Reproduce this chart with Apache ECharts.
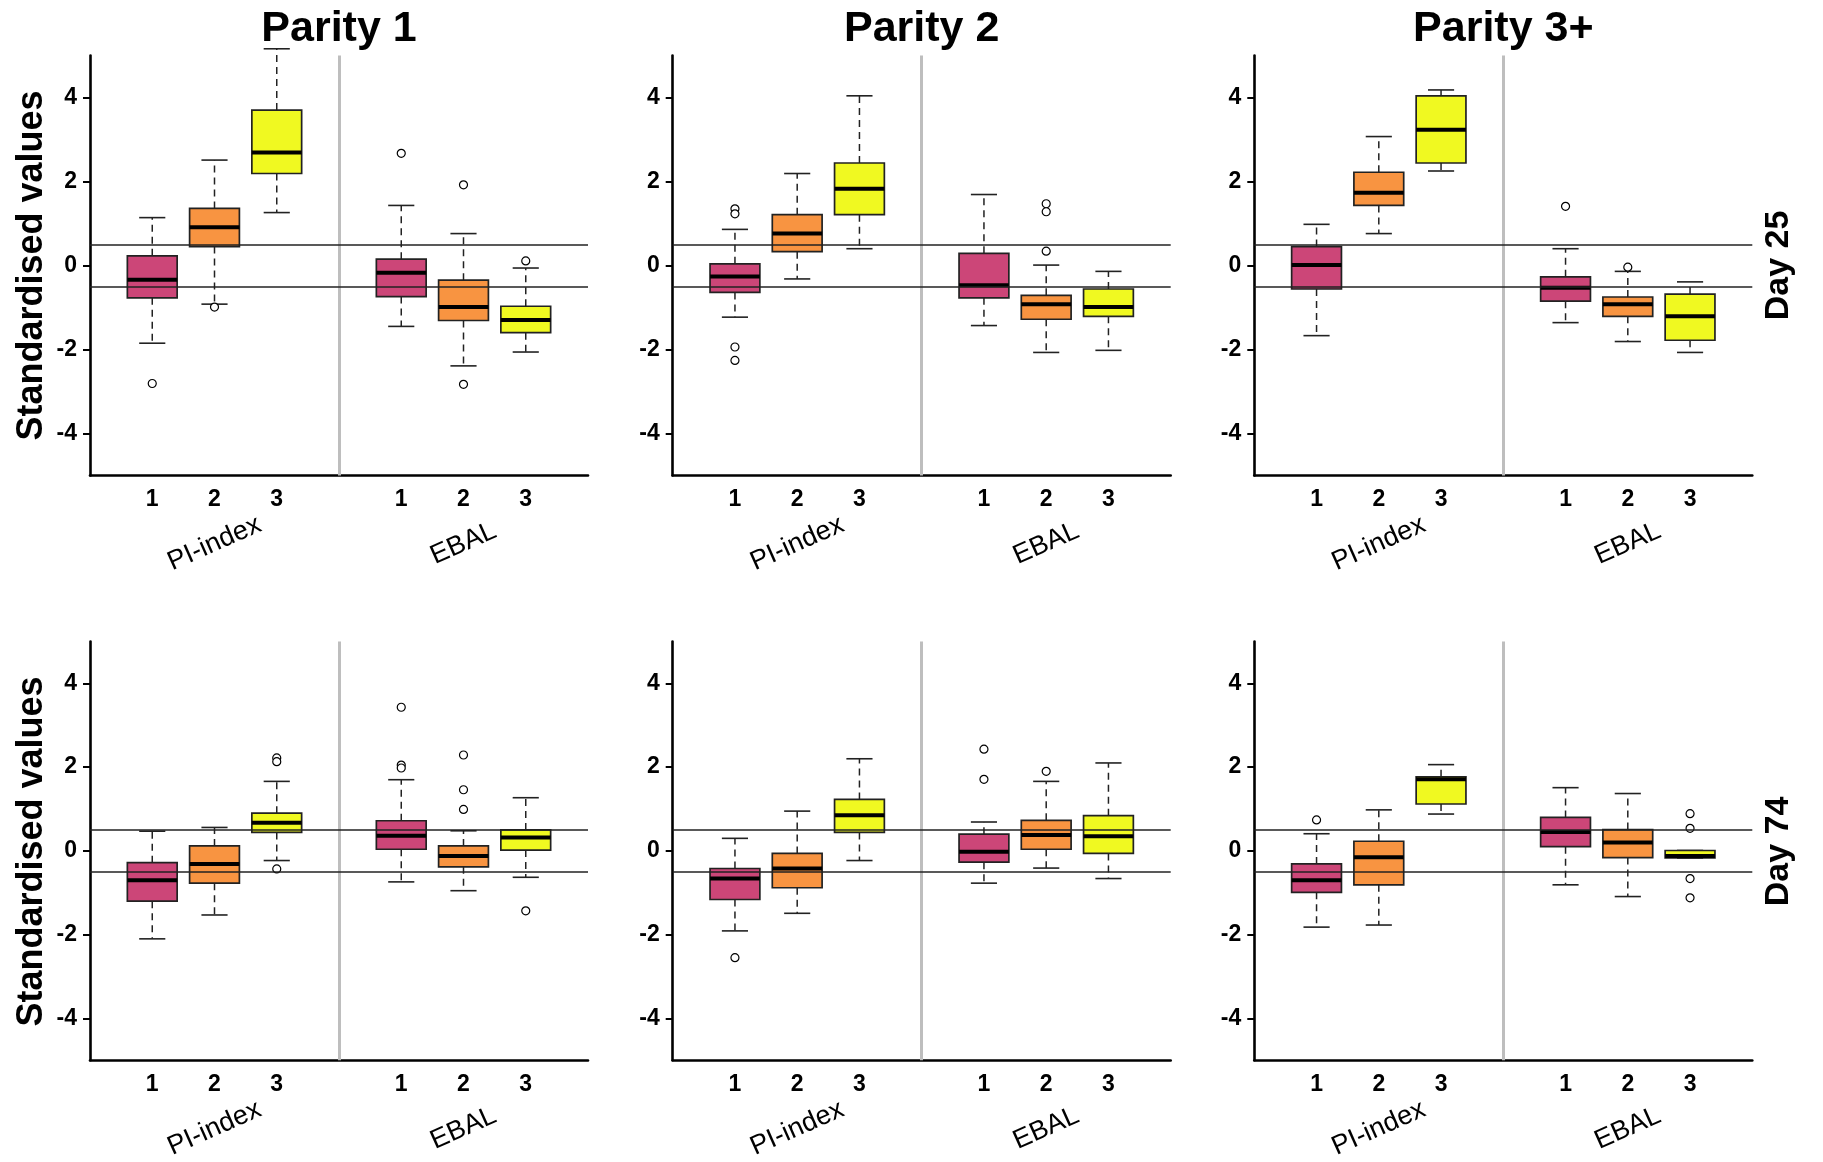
<!DOCTYPE html>
<html><head><meta charset="utf-8">
<script src="https://cdn.jsdelivr.net/npm/echarts@6/dist/echarts.min.js"></script>
<style>html,body{margin:0;padding:0;background:#fff}#c{width:1823px;height:1162px}</style>
</head><body><div id="c"></div><script>
// ---------- data ----------
const parities = ['Parity 1', 'Parity 2', 'Parity 3+'];
const days = ['Day 25', 'Day 74'];
const groups = ['PI-index', 'EBAL'];
const levels = ['1', '2', '3'];
const yTicks = [-4, -2, 0, 2, 4];
const refLines = [0.5, -0.5];
const yLabel = 'Standardised values';

// box order: PI-index 1,2,3, EBAL 1,2,3 ; each [lower whisker, Q1, median, Q3, upper whisker]
const boxD25P1 = [
  [-1.85, -0.77, -0.34, 0.23, 1.14],
  [-0.92, 0.45, 0.91, 1.36, 2.51],
  [1.26, 2.19, 2.69, 3.70, 5.16],
  [-1.45, -0.74, -0.17, 0.15, 1.43],
  [-2.39, -1.31, -0.99, -0.35, 0.76],
  [-2.06, -1.60, -1.30, -0.97, -0.06]
];
const boxD25P2 = [
  [-1.23, -0.64, -0.26, 0.04, 0.86],
  [-0.32, 0.33, 0.76, 1.21, 2.19],
  [0.40, 1.21, 1.83, 2.44, 4.04],
  [-1.43, -0.77, -0.47, 0.29, 1.69],
  [-2.07, -1.28, -0.92, -0.71, 0.01],
  [-2.02, -1.21, -0.99, -0.56, -0.14]
];
const boxD25P3 = [
  [-1.67, -0.56, 0.01, 0.45, 0.98],
  [0.76, 1.43, 1.73, 2.22, 3.07],
  [2.25, 2.44, 3.23, 4.04, 4.18],
  [-1.36, -0.85, -0.53, -0.27, 0.40],
  [-1.81, -1.21, -0.92, -0.75, -0.14],
  [-2.07, -1.78, -1.21, -0.68, -0.39]
];
const boxD74P1 = [
  [-2.10, -1.20, -0.70, -0.28, 0.47],
  [-1.53, -0.77, -0.31, 0.12, 0.56],
  [-0.23, 0.44, 0.67, 0.90, 1.66],
  [-0.74, 0.04, 0.36, 0.72, 1.70],
  [-0.95, -0.38, -0.12, 0.12, 0.48],
  [-0.63, 0.02, 0.32, 0.50, 1.27]
];
const boxD74P2 = [
  [-1.91, -1.16, -0.66, -0.42, 0.30],
  [-1.49, -0.88, -0.42, -0.06, 0.95],
  [-0.23, 0.44, 0.85, 1.23, 2.20],
  [-0.77, -0.27, -0.02, 0.40, 0.69],
  [-0.41, 0.04, 0.38, 0.73, 1.66],
  [-0.66, -0.06, 0.35, 0.84, 2.10]
];
const boxD74P3 = [
  [-1.82, -0.99, -0.70, -0.31, 0.41],
  [-1.77, -0.81, -0.15, 0.23, 0.98],
  [0.88, 1.12, 1.71, 1.77, 2.06],
  [-0.81, 0.10, 0.45, 0.80, 1.51],
  [-1.09, -0.16, 0.20, 0.51, 1.37],
  [-0.17, -0.17, -0.12, 0.01, 0.01]
];
// outliers: [box index, value]
const outD25P1 = [[0, -2.81], [1, -0.99], [3, 2.67], [4, 1.92], [4, -2.83], [5, 0.11]];
const outD25P2 = [[0, 1.35], [0, 1.23], [0, -1.94], [0, -2.26], [4, 1.47], [4, 1.28], [4, 0.34]];
const outD25P3 = [[3, 1.41], [4, -0.04]];
const outD74P1 = [[2, 2.22], [2, 2.13], [2, -0.43], [3, 3.43], [3, 2.05], [3, 1.98], [4, 2.29], [4, 1.46], [4, 0.99], [5, -1.43]];
const outD74P2 = [[0, -2.55], [3, 2.43], [3, 1.71], [4, 1.90]];
const outD74P3 = [[0, 0.74], [5, 0.89], [5, 0.54], [5, -0.66], [5, -1.12]];

const panels = [
  { day: 0, par: 0, box: boxD25P1, out: outD25P1 },
  { day: 0, par: 1, box: boxD25P2, out: outD25P2 },
  { day: 0, par: 2, box: boxD25P3, out: outD25P3 },
  { day: 1, par: 0, box: boxD74P1, out: outD74P1 },
  { day: 1, par: 1, box: boxD74P2, out: outD74P2 },
  { day: 1, par: 2, box: boxD74P3, out: outD74P3 }
];

// ---------- layout & style ----------
const FONT = '"Liberation Sans", Arial, sans-serif';
const boxColors = ['#CC4678', '#F89441', '#F0F921'];
const colLeft = [90, 672.7, 1254.3];
const rowTop = [55.5, 641.5];
const GW = 498, GH = 420;
const pos = i => Math.floor(i / 3) * 4 + (i % 3) + 1;

function renderBox(params, api) {
  const x = api.value(0);
  const c = d => api.coord([x, api.value(d)]);
  const lo = c(1), q1 = c(2), md = c(3), q3 = c(4), hi = c(5);
  const hw = api.size([0.8, 0])[0] / 2;
  const cw = api.size([0.42, 0])[0] / 2;
  const cx = lo[0];
  const fill = boxColors[params.dataIndex % 3];
  const ws = { stroke: '#222', lineWidth: 1.5, lineDash: [7, 5] };
  const ss = { stroke: '#222', lineWidth: 1.6 };
  return {
    type: 'group',
    children: [
      { type: 'line', shape: { x1: cx, y1: q3[1], x2: cx, y2: hi[1] }, style: ws },
      { type: 'line', shape: { x1: cx, y1: q1[1], x2: cx, y2: lo[1] }, style: ws },
      { type: 'line', shape: { x1: cx - cw, y1: hi[1], x2: cx + cw, y2: hi[1] }, style: ss },
      { type: 'line', shape: { x1: cx - cw, y1: lo[1], x2: cx + cw, y2: lo[1] }, style: ss },
      { type: 'rect', shape: { x: cx - hw, y: q3[1], width: 2 * hw, height: q1[1] - q3[1] },
        style: { fill: fill, stroke: '#222', lineWidth: 1.7 } },
      { type: 'line', shape: { x1: cx - hw, y1: md[1], x2: cx + hw, y2: md[1] },
        style: { stroke: '#000', lineWidth: 4 } }
    ]
  };
}

const grid = [], xAxis = [], yAxis = [], series = [];
panels.forEach((p, k) => {
  grid.push({ left: colLeft[p.par], top: rowTop[p.day], width: GW, height: GH, containLabel: false });
  xAxis.push({
    type: 'value', gridIndex: k, min: 0, max: 8, position: 'bottom',
    axisLine: { show: true, onZero: false, lineStyle: { color: '#000', width: 2.6 } },
    axisTick: { show: false }, splitLine: { show: false },
    axisLabel: {
      customValues: [1, 2, 3, 5, 6, 7],
      formatter: v => levels[(v - 1) % 4],
      fontFamily: FONT, fontSize: 23, fontWeight: 'bold', color: '#000',
      verticalAlign: 'middle', margin: 24
    }
  });
  xAxis.push({
    type: 'value', gridIndex: k, min: 0, max: 8, position: 'bottom', offset: 0,
    axisLine: { show: false }, axisTick: { show: false }, splitLine: { show: false },
    axisLabel: {
      customValues: [2, 6],
      formatter: v => groups[(v - 2) / 4],
      rotate: 24, align: 'center', verticalAlign: 'middle', margin: 68,
      fontFamily: FONT, fontSize: 27, color: '#000'
    }
  });
  yAxis.push({
    type: 'value', gridIndex: k, min: -5, max: 5,
    axisLine: { show: true, onZero: false, lineStyle: { color: '#000', width: 2.6 } },
    axisTick: { show: true, customValues: yTicks, length: 7, lineStyle: { color: '#000', width: 2 } },
    axisLabel: {
      customValues: yTicks, fontFamily: FONT, fontSize: 23, fontWeight: 'bold', color: '#000',
      margin: 13, padding: [8, 0, 0, 0]
    },
    splitLine: { show: false }
  });
  series.push({
    type: 'custom', xAxisIndex: 2 * k, yAxisIndex: k,
    data: p.box.map((b, i) => [pos(i)].concat(b)),
    encode: { x: 0, y: [1, 2, 3, 4, 5] },
    renderItem: renderBox, z: 2, animation: false
  });
  series.push({
    type: 'scatter', xAxisIndex: 2 * k, yAxisIndex: k,
    data: p.out.map(o => [pos(o[0]), o[1]]),
    symbol: 'circle', symbolSize: 8,
    itemStyle: { color: '#fff', borderColor: '#000', borderWidth: 1.2, opacity: 1 },
    z: 3, animation: false,
    markLine: {
      silent: true, symbol: ['none', 'none'], label: { show: false }, animation: false,
      data: [{ xAxis: 4, lineStyle: { color: '#bebebe', width: 3, type: 'solid' } }].concat(
        refLines.map(v => ({ yAxis: v, lineStyle: { color: '#222', width: 1.6, type: 'solid' } })))
    }
  });
});

const graphic = [];
parities.forEach((t, i) => graphic.push({
  type: 'text', x: colLeft[i] + GW / 2, y: 29,
  style: { text: t, fontFamily: FONT, fontSize: 43, fontWeight: 'bold', fill: '#000', align: 'center', verticalAlign: 'middle' }
}));
days.forEach((t, j) => {
  graphic.push({
    type: 'text', x: 1779, y: rowTop[j] + GH / 2, rotation: Math.PI / 2,
    style: { text: t, fontFamily: FONT, fontSize: 34, fontWeight: 'bold', fill: '#000', align: 'center', verticalAlign: 'middle' }
  });
  graphic.push({
    type: 'text', x: 32, y: rowTop[j] + GH / 2, rotation: Math.PI / 2,
    style: { text: yLabel, fontFamily: FONT, fontSize: 36, fontWeight: 'bold', fill: '#000', align: 'center', verticalAlign: 'middle' }
  });
});

const chart = echarts.init(document.getElementById('c'), null, { renderer: 'canvas' });
chart.setOption({
  animation: false,
  backgroundColor: '#fff',
  textStyle: { fontFamily: FONT },
  grid, xAxis, yAxis, series, graphic
});
</script></body></html>
